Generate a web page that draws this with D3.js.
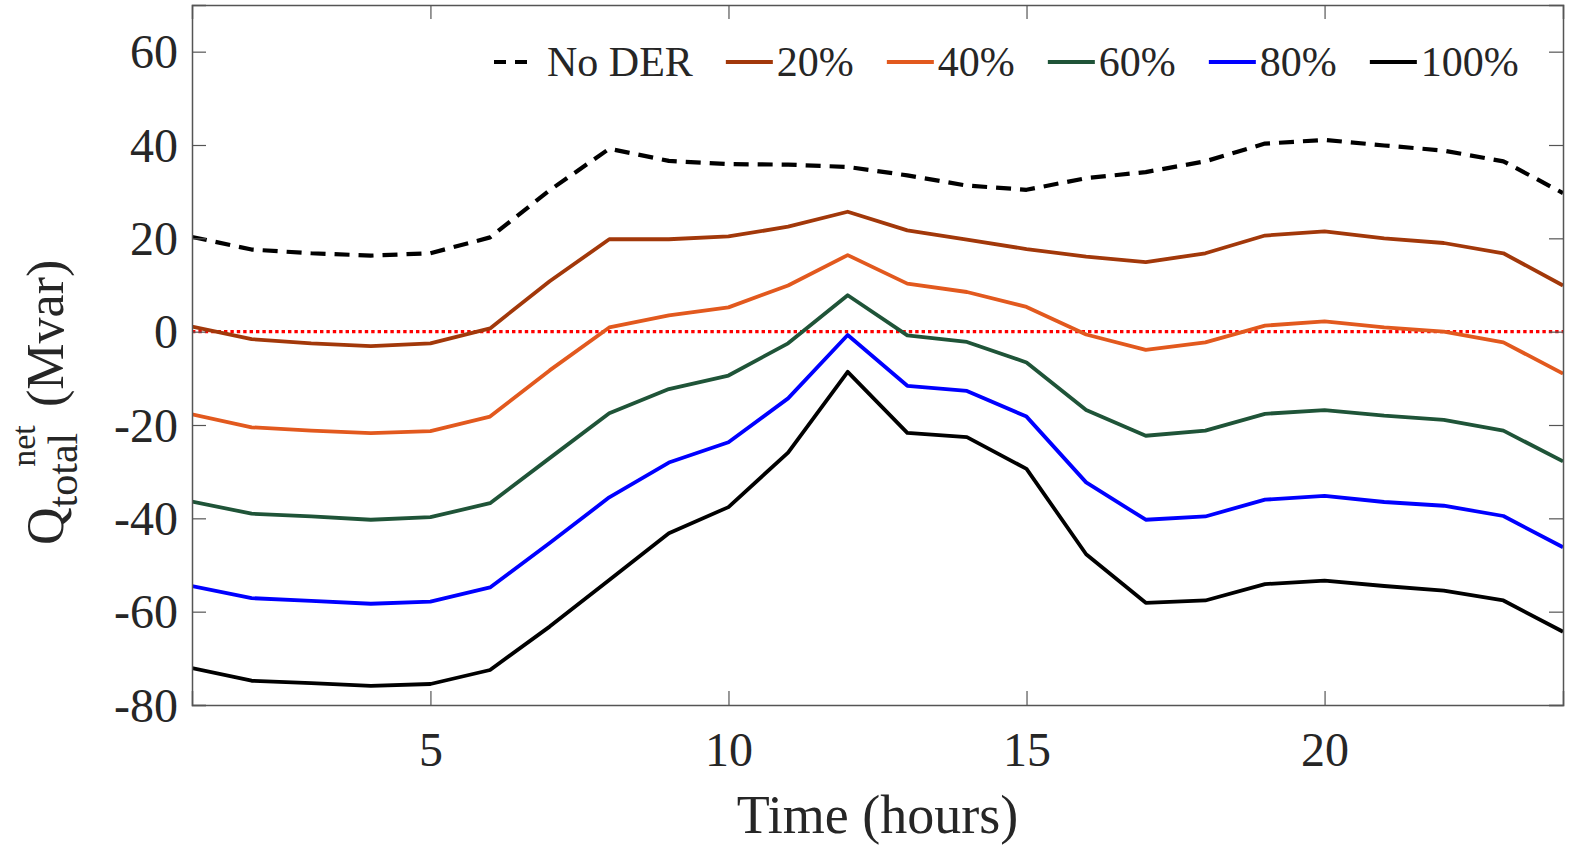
<!DOCTYPE html>
<html>
<head>
<meta charset="utf-8">
<script src="https://cdn.jsdelivr.net/npm/d3@7"></script>
<style>
  body { margin: 0; background: #fff; }
  svg { display: block; }
  text { font-family: "Liberation Serif", "Times New Roman", serif; fill: #262626; }
</style>
</head>
<body>
<div id="chart"></div>
<script>
// hours of the day
const hours = [1, 2, 3, 4, 5, 6, 7, 8, 9, 10, 11, 12, 13, 14, 15, 16, 17, 18, 19, 20, 21, 22, 23, 24];

// net reactive power (Mvar) per DER penetration level
const noDER = [20.3, 17.6, 16.8, 16.3, 16.8, 20.2, 30.3, 39.2, 36.6, 35.9, 35.8, 35.3, 33.5, 31.3, 30.4, 32.9, 34.2, 36.5, 40.3, 41.1, 39.9, 38.8, 36.5, 29.7];
const der20 = [1.1, -1.6, -2.5, -3.1, -2.5, 0.7, 10.8, 19.8, 19.8, 20.4, 22.5, 25.7, 21.7, 19.7, 17.7, 16.1, 14.9, 16.8, 20.6, 21.5, 20.0, 19.0, 16.8, 9.9];
const der40 = [-17.7, -20.5, -21.2, -21.75, -21.3, -18.2, -8.3, 0.9, 3.5, 5.2, 9.9, 16.4, 10.3, 8.5, 5.3, -0.6, -3.9, -2.3, 1.3, 2.2, 0.9, 0.0, -2.3, -9.0];
const der60 = [-36.4, -39.0, -39.6, -40.3, -39.75, -36.75, -27.1, -17.5, -12.3, -9.4, -2.5, 7.8, -0.8, -2.2, -6.6, -16.8, -22.3, -21.2, -17.6, -16.8, -18.0, -18.9, -21.2, -27.8];
const der80 = [-54.5, -57.1, -57.7, -58.3, -57.85, -54.8, -45.3, -35.5, -28.05, -23.7, -14.3, -0.7, -11.6, -12.7, -18.2, -32.3, -40.3, -39.6, -36.0, -35.2, -36.5, -37.3, -39.5, -46.2];
const der100 = [-72.1, -74.8, -75.3, -75.9, -75.5, -72.5, -63.2, -53.2, -43.2, -37.6, -25.9, -8.6, -21.7, -22.6, -29.4, -47.7, -58.1, -57.6, -54.1, -53.35, -54.5, -55.5, -57.6, -64.3];

const seriesNames = ["No DER", "20%", "40%", "60%", "80%", "100%"];
const seriesColors = ["#000000", "#A2380A", "#E2591E", "#1F5438", "#0000FF", "#000000"];
const xTicks = [5, 10, 15, 20];
const yTicks = [-80, -60, -40, -20, 0, 20, 40, 60];

const width = 1571, height = 855;
const margin = { top: 5, right: 8, bottom: 150, left: 192 };

const svg = d3.select("#chart")
  .append("svg")
  .attr("width", width)
  .attr("height", height);

const x = d3.scaleLinear()
  .domain([1, 24])
  .range([margin.left, width - margin.right]);

const y = d3.scaleLinear()
  .domain([-80, 70])
  .range([height - margin.bottom, margin.top]);

const allSeries = [noDER, der20, der40, der60, der80, der100].map((vals, i) => ({
  name: seriesNames[i],
  color: seriesColors[i],
  dashed: i === 0,
  points: hours.map((h, j) => [h, vals[j]])
}));

// clip lines to the plot box
svg.append("clipPath").attr("id", "clip")
  .append("rect")
  .attr("x", x(1)).attr("y", y(70))
  .attr("width", x(24) - x(1)).attr("height", y(-80) - y(70));

const line = d3.line().x((d) => x(d[0])).y((d) => y(d[1]));

const plot = svg.append("g").attr("clip-path", "url(#clip)");

// zero reference
plot.append("line")
  .attr("x1", x(1)).attr("x2", x(24))
  .attr("y1", y(0)).attr("y2", y(0))
  .attr("stroke", "#FF0000")
  .attr("stroke-width", 3.4)
  .attr("stroke-dasharray", "3.4,3");

plot.selectAll("path.series")
  .data(allSeries)
  .enter()
  .append("path")
  .attr("class", "series")
  .attr("d", (d) => line(d.points))
  .attr("fill", "none")
  .attr("stroke", (d) => d.color)
  .attr("stroke-width", (d) => (d.dashed ? 4.2 : 3.8))
  .attr("stroke-dasharray", (d) => (d.dashed ? "15,9" : null))
  .attr("stroke-linejoin", "round");

// axes (MATLAB style box, inward ticks)
const axisColor = "#555";
const tickLen = 14;
const fmt = (d) => String(d); // plain hyphen minus, like the original

const yLeft = svg.append("g")
  .attr("transform", `translate(${x(1)},0)`)
  .call(d3.axisLeft(y).tickValues(yTicks).tickSize(-tickLen).tickPadding(14).tickFormat(fmt));
const yRight = svg.append("g")
  .attr("transform", `translate(${x(24)},0)`)
  .call(d3.axisRight(y).tickValues(yTicks).tickSize(-tickLen).tickFormat(""));
const xBottom = svg.append("g")
  .attr("transform", `translate(0,${y(-80)})`)
  .call(d3.axisBottom(x).tickValues(xTicks).tickSize(-tickLen).tickPadding(26).tickFormat(fmt));
const xTop = svg.append("g")
  .attr("transform", `translate(0,${y(70)})`)
  .call(d3.axisTop(x).tickValues(xTicks).tickSize(-tickLen).tickFormat(""));

[yLeft, yRight, xBottom, xTop].forEach((g) => {
  g.select(".domain").attr("stroke", axisColor).attr("stroke-width", 1.5);
  g.selectAll(".tick line").attr("stroke", axisColor).attr("stroke-width", 1.2);
  g.selectAll(".tick text")
    .style("font-family", "'Liberation Serif', serif")
    .style("font-size", "48px")
    .attr("fill", "#262626");
});
yLeft.selectAll(".tick text").attr("dy", "0.34em");
xBottom.selectAll(".tick text").attr("dy", "0.72em");

// x label
svg.append("text")
  .attr("x", (x(1) + x(24)) / 2)
  .attr("y", 833)
  .attr("text-anchor", "middle")
  .style("font-size", "54px")
  .text("Time (hours)");

// y label: Q^net_total (Mvar)
const yLab = svg.append("text")
  .attr("transform", "translate(63,545) rotate(-90)")
  .style("font-size", "52px");
yLab.append("tspan").text("Q");
yLab.append("tspan").attr("dy", 14).style("font-size", "42px").text("total");
yLab.append("tspan").attr("dx", -34).attr("dy", -42).style("font-size", "34px").text("net");
yLab.append("tspan").attr("x", 138).attr("dy", 28).text("(Mvar)");

// legend
const legend = svg.append("g");
let lx = 494;
const legendY = 62;
allSeries.forEach((s) => {
  legend.append("line")
    .attr("x1", lx).attr("x2", lx + (s.dashed ? 36 : 47))
    .attr("y1", legendY).attr("y2", legendY)
    .attr("stroke", s.color)
    .attr("stroke-width", s.dashed ? 4.2 : 3.8)
    .attr("stroke-dasharray", s.dashed ? "12,9" : null);
  const t = legend.append("text")
    .attr("x", lx + (s.dashed ? 53 : 51))
    .attr("y", legendY + 14)
    .style("font-size", "42px")
    .text(s.name);
  lx = lx + (s.dashed ? 53 : 51) + t.node().getComputedTextLength() + 33;
});
</script>
</body>
</html>
